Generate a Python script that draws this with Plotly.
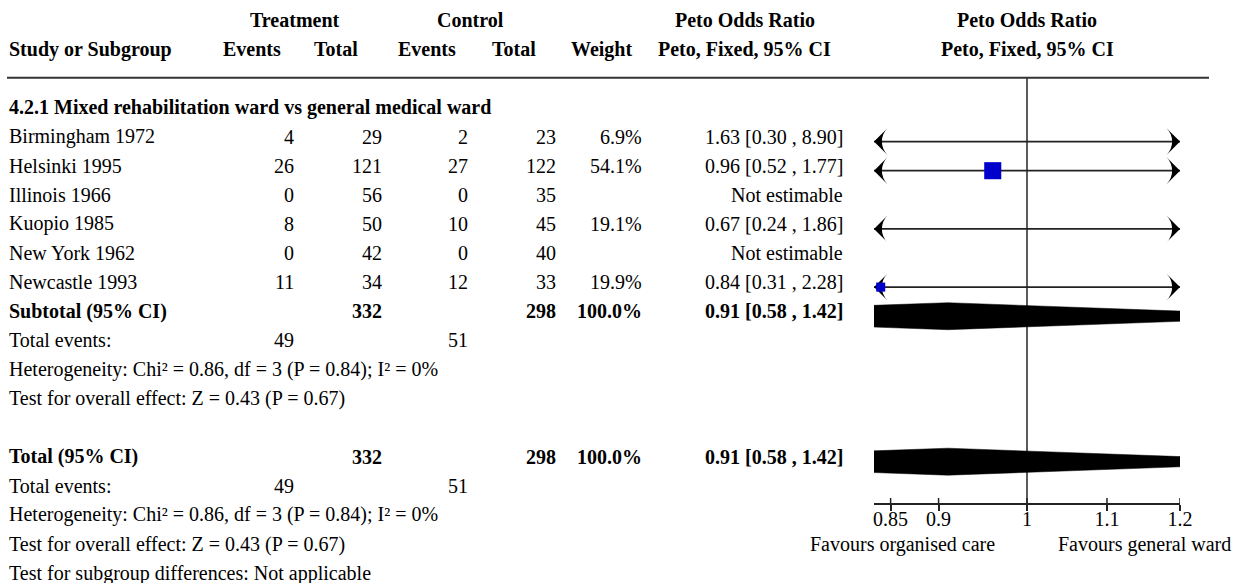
import math
import plotly.graph_objects as go

# ---------------- data ----------------
subgroup_title = "4.2.1 Mixed rehabilitation ward vs general medical ward"
studies = ["Birmingham 1972", "Helsinki 1995", "Illinois 1966", "Kuopio 1985",
           "New York 1962", "Newcastle 1993"]
treat_events = [4, 26, 0, 8, 0, 11]
treat_total = [29, 121, 56, 50, 42, 34]
ctrl_events = [2, 27, 0, 10, 0, 12]
ctrl_total = [23, 122, 35, 45, 40, 33]
weights = [6.9, 54.1, None, 19.1, None, 19.9]
odds_ratio = [1.63, 0.96, None, 0.67, None, 0.84]
ci_lower = [0.30, 0.52, None, 0.24, None, 0.31]
ci_upper = [8.90, 1.77, None, 1.86, None, 2.28]

pooled_or = 0.91
pooled_lower = 0.58
pooled_upper = 1.42
pooled_weight = 100.0
total_treat = 332
total_ctrl = 298
total_treat_events = 49
total_ctrl_events = 51
chi2 = 0.86
het_df = 3
p_het = 0.84
i2 = 0
z_value = 0.43
p_overall = 0.67

tick_values = [0.85, 0.9, 1, 1.1, 1.2]
tick_labels = ["0.85", "0.9", "1", "1.1", "1.2"]
axis_min = 1 / 1.2
axis_max = 1.2
left_label = "Favours organised care"
right_label = "Favours general ward"

# ---------------- layout constants ----------------
W, H = 1239, 583
ROW0_PX = 112.5
ROW_PX = 29.1
FONT = "Liberation Serif"
FS = 20
TXT = "#000000"
LINE = "#222222"


def row_of_px(p):
    return (p - ROW0_PX) / ROW_PX


AXIS_ROW = row_of_px(504)
HEADER_LINE_ROW = row_of_px(77.7)

# column positions (px)
X_LABEL = 7
X_TE, X_TT, X_CE, X_CT, X_W, X_CI = 296, 383.5, 469.5, 557.5, 644, 845

annotations = []


def txt(x_px, row, s, anchor="left", bold=False, shift=5, size=FS):
    annotations.append(dict(
        xref="paper", x=x_px / W, yref="y", y=row,
        text=f"<b>{s}</b>" if bold else s, showarrow=False,
        xanchor=anchor, yanchor="middle", yshift=shift,
        font=dict(family=FONT, size=size, color=TXT)))


# headers
txt(295, -3, "Treatment", "center", True)
txt(470.5, -3, "Control", "center", True)
txt(745, -3, "Peto Odds Ratio", "center", True)
txt(1027, -3, "Peto Odds Ratio", "center", True)
txt(X_LABEL, -2, "Study or Subgroup", "left", True)
txt(252, -2, "Events", "center", True)
txt(336, -2, "Total", "center", True)
txt(427, -2, "Events", "center", True)
txt(514, -2, "Total", "center", True)
txt(601, -2, "Weight", "center", True)
txt(745, -2, "Peto, Fixed, 95% CI", "center", True)
txt(1027, -2, "Peto, Fixed, 95% CI", "center", True)

txt(X_LABEL, 0, subgroup_title, "left", True)

for i, name in enumerate(studies):
    r = i + 1
    txt(X_LABEL, r, name)
    txt(X_TE, r, str(treat_events[i]), "right")
    txt(X_TT, r, str(treat_total[i]), "right")
    txt(X_CE, r, str(ctrl_events[i]), "right")
    txt(X_CT, r, str(ctrl_total[i]), "right")
    if weights[i] is not None:
        txt(X_W, r, f"{weights[i]:.1f}%", "right")
    if odds_ratio[i] is not None:
        txt(X_CI, r, f"{odds_ratio[i]:.2f} [{ci_lower[i]:.2f} , {ci_upper[i]:.2f}]", "right")
    else:
        txt(X_CI, r, "Not estimable", "right")

het_text = (f"Heterogeneity: Chi² = {chi2:.2f}, df = {het_df} (P = {p_het:.2f}); "
            f"I² = {i2}%")
z_text = f"Test for overall effect: Z = {z_value:.2f} (P = {p_overall:.2f})"
pooled_text = f"{pooled_or:.2f} [{pooled_lower:.2f} , {pooled_upper:.2f}]"

for r0, lab in [(7, "Subtotal (95% CI)"), (12, "Total (95% CI)")]:
    txt(X_LABEL, r0, lab, "left", True)
    txt(X_TT, r0, str(total_treat), "right", True)
    txt(X_CT, r0, str(total_ctrl), "right", True)
    txt(X_W, r0, f"{pooled_weight:.1f}%", "right", True)
    txt(X_CI, r0, pooled_text, "right", True)
    txt(X_LABEL, r0 + 1, "Total events:")
    txt(X_TE, r0 + 1, str(total_treat_events), "right")
    txt(X_CE, r0 + 1, str(total_ctrl_events), "right")
    txt(X_LABEL, r0 + 2, het_text)
    txt(X_LABEL, r0 + 3, z_text)
txt(X_LABEL, 16, "Test for subgroup differences: Not applicable")

txt(903, 15, left_label, "center")
txt(1144, 15, right_label, "center")

fig = go.Figure()

# null line
fig.add_trace(go.Scatter(x=[1, 1], y=[HEADER_LINE_ROW, AXIS_ROW], mode="lines",
                         line=dict(color="#333333", width=1.6), hoverinfo="skip"))

# CI lines
cx, cy = [], []
lx, ly, rx, ry = [], [], [], []
sq_x, sq_y, sq_s = [], [], []
for i in range(len(studies)):
    if odds_ratio[i] is None:
        continue
    r = i + 1
    lo = max(ci_lower[i], axis_min)
    hi = min(ci_upper[i], axis_max)
    cx += [lo, hi, None]
    cy += [r, r, None]
    if ci_lower[i] < axis_min:
        lx.append(axis_min); ly.append(r)
    if ci_upper[i] > axis_max:
        rx.append(axis_max); ry.append(r)
    if axis_min <= odds_ratio[i] <= axis_max:
        sq_x.append(odds_ratio[i]); sq_y.append(r)
        sq_s.append(4.4 + 0.234 * weights[i])

ARROW = 19
fig.add_trace(go.Scatter(x=cx, y=cy, mode="lines", line=dict(color=LINE, width=1.8),
                         hoverinfo="skip", cliponaxis=False))
fig.add_trace(go.Scatter(x=lx, y=ly, mode="markers", cliponaxis=False, hoverinfo="skip",
                         marker=dict(symbol="arrow-wide", angle=-90, size=ARROW, color="#000000",
                                     opacity=1, line=dict(width=0))))
fig.add_trace(go.Scatter(x=rx, y=ry, mode="markers", cliponaxis=False, hoverinfo="skip",
                         marker=dict(symbol="arrow-wide", angle=90, size=ARROW, color="#000000",
                                     opacity=1, line=dict(width=0))))
fig.add_trace(go.Scatter(x=sq_x, y=sq_y, mode="markers", cliponaxis=False, hoverinfo="skip",
                         marker=dict(symbol="square", size=sq_s, color="#0000CC",
                                     opacity=1, line=dict(width=0))))

# diamonds (clipped to the axis range)
DH = 13.5 / ROW_PX


def diamond(est, lo, hi, row):
    L, E, U = math.log(lo), math.log(est), math.log(hi)
    a, b = math.log(axis_min), math.log(axis_max)
    if L < a:
        hl = DH * (a - L) / (E - L)
        left_top, left_bot = (axis_min, row - hl), (axis_min, row + hl)
    else:
        left_top = left_bot = (lo, row)
    if U > b:
        hr = DH * (U - b) / (U - E)
        right_top, right_bot = (axis_max, row - hr), (axis_max, row + hr)
    else:
        right_top = right_bot = (hi, row)
    pts = [left_top, (est, row - DH), right_top, right_bot, (est, row + DH), left_bot, left_top]
    return [p[0] for p in pts], [p[1] for p in pts]


for r0 in (7, 12):
    dx, dy = diamond(pooled_or, pooled_lower, pooled_upper, r0)
    fig.add_trace(go.Scatter(x=dx, y=dy, mode="lines", fill="toself", fillcolor="#000000",
                             line=dict(color="#000000", width=0.5), hoverinfo="skip",
                             cliponaxis=False))

# upward halves of the axis ticks
tx, ty = [], []
for t in tick_values:
    tx += [t, t, None]
    ty += [AXIS_ROW, AXIS_ROW - 6 / ROW_PX, None]
fig.add_trace(go.Scatter(x=tx, y=ty, mode="lines", line=dict(color=LINE, width=1.5),
                         hoverinfo="skip", cliponaxis=False))

fig.update_layout(
    width=W, height=H, margin=dict(l=0, r=0, t=0, b=0, autoexpand=False),
    paper_bgcolor="white", plot_bgcolor="white", showlegend=False,
    annotations=annotations,
    shapes=[dict(type="line", xref="paper", yref="y", x0=7 / W, x1=1209 / W,
                 y0=HEADER_LINE_ROW, y1=HEADER_LINE_ROW,
                 line=dict(color="#333333", width=2))],
    xaxis=dict(type="log", range=[math.log10(axis_min), math.log10(axis_max)],
               domain=[874 / W, 1180 / W], anchor="free", position=1 - 504 / H,
               showline=True, linecolor=LINE, linewidth=1.5,
               ticks="outside", ticklen=6, tickwidth=1.5, tickcolor=LINE,
               tickvals=tick_values, ticktext=tick_labels, ticklabelstandoff=-9,
               tickfont=dict(family=FONT, size=FS, color=TXT),
               showgrid=False, zeroline=False, fixedrange=True),
    yaxis=dict(range=[row_of_px(H), row_of_px(0)], domain=[0, 1], visible=False,
               showgrid=False, zeroline=False, fixedrange=True),
)

fig.write_html(
    "out.html",
    config={"displayModeBar": False},
    post_script="document.body.style.margin='0px';"
                "document.documentElement.style.overflow='hidden';"
                "document.body.style.overflow='hidden';",
)
